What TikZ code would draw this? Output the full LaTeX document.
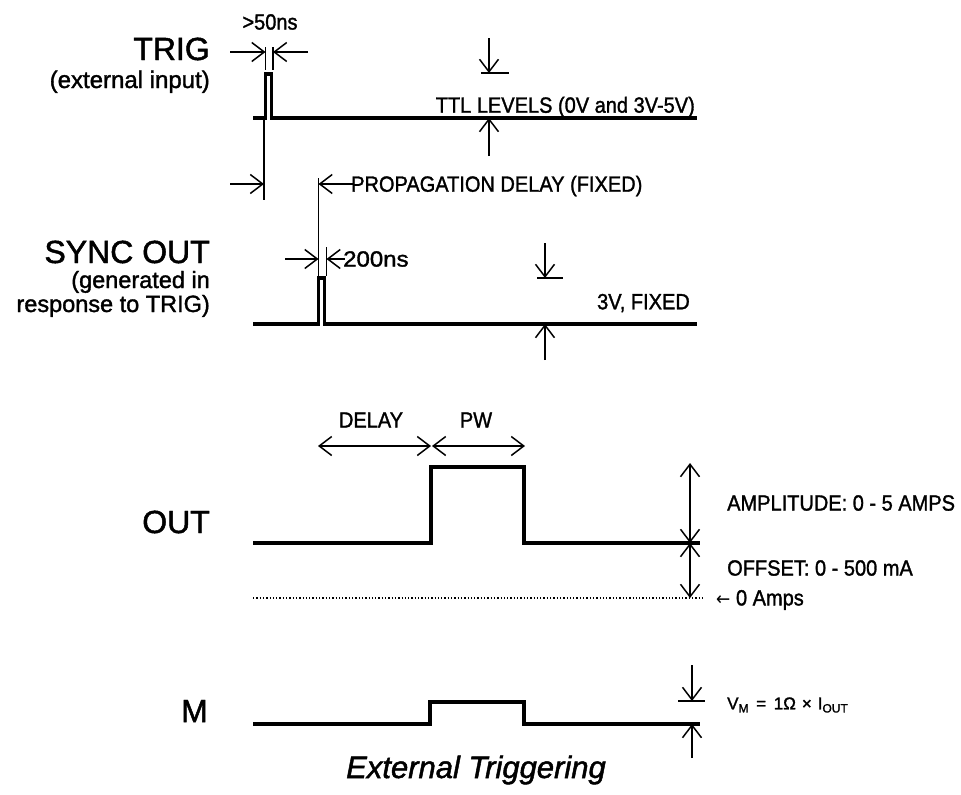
\documentclass[tikz,border=0pt]{standalone}
\usepackage{fontspec}
\setmainfont{Liberation Sans}[FakeBold=1.5]
\newfontfamily\arrowfont{DejaVu Sans}
\usetikzlibrary{arrows.meta}
\newcommand\tallt[1]{\scalebox{1}[1.1]{#1}}
\tikzset{
  wave/.style={line width=3.3pt, line join=miter},
  dim/.style={line width=1.5pt},
  dimarrow/.style={dim, -{Straight Barb[length=12.5pt,width=19pt]}},
  dimboth/.style={dim, {Straight Barb[length=12.5pt,width=19pt]}-{Straight Barb[length=12.5pt,width=19pt]}},
  biglabel/.style={inner sep=0pt, anchor=base east, font=\fontsize{32}{36}\selectfont},
  sublabel/.style={inner sep=0pt, anchor=base east, font=\fontsize{24}{26}\selectfont},
  smalltext/.style={inner sep=0pt, font=\fontsize{20}{22}\selectfont},
}
\begin{document}
\begin{tikzpicture}[x=1pt,y=-1pt]
\useasboundingbox[fill=white] (0,0) rectangle (961,795);

% ---------- labels on the left ----------
\node[biglabel] (trig) at (210,60) {TRIG};
\node[sublabel] (trigsub) at (210,88) {(external input)};
\node[biglabel] (sync) at (210,263) {SYNC OUT};
\node[sublabel, font=\fontsize{23.5}{26}\selectfont] (syncsub1) at (210,288) {(generated in};
\node[sublabel, font=\fontsize{23.5}{26}\selectfont] (syncsub2) at (210,312) {response to TRIG)};
\node[biglabel] (out) at (210,533) {OUT};
\node[biglabel] (m) at (208,722) {M};

% ---------- waveforms ----------
\draw[wave] (253,118) -- (265.5,118) -- (265.5,74) -- (271.5,74) -- (271.5,118) -- (697,118);
\draw[wave] (253,324) -- (318.5,324) -- (318.5,278) -- (324.5,278) -- (324.5,324) -- (697,324);
\draw[wave] (253,543) -- (431,543) -- (431,467) -- (524,467) -- (524,543) -- (700,543);
\draw[wave] (253,724) -- (430,724) -- (430,702) -- (524,702) -- (524,724) -- (700,724);
\draw[dotted, line width=1.3pt] (253,598) -- (705,598);

% ---------- >50ns ----------
\draw[dim] (265.5,47) -- (265.5,70);
\draw[dim] (273,47) -- (273,70);
\draw[dimarrow] (230,52) -- (265.5,52);
\draw[dimarrow] (308,52) -- (273,52);
\node[smalltext] (w50) at (270,22) {\tallt{>50ns}};

% ---------- TTL levels ----------
\draw[dimarrow] (489,38) -- (489,73);
\draw[dim] (481,73) -- (509,73);
\draw[dimarrow] (489,156) -- (489,118);
\node[smalltext, anchor=east] (ttl) at (695,107) {\tallt{TTL LEVELS (0V and 3V-5V)}};

% ---------- propagation delay ----------
\draw[dim] (264,120) -- (264,200);
\draw[dimarrow] (230,184) -- (264,184);
\draw[dim] (318.5,178) -- (318.5,278);
\draw[dimarrow] (353,184) -- (318.5,184);
\node[smalltext, anchor=west] (prop) at (351,186) {\tallt{PROPAGATION DELAY (FIXED)}};

% ---------- 200ns ----------
\draw[dimarrow] (285,259) -- (318.5,259);
\draw[dim] (326.5,247) -- (326.5,276);
\draw[dimarrow] (345,259) -- (326.5,259);
\node[smalltext, anchor=west] (w200) at (343,259) {\scalebox{1.2}[1.1]{200ns}};

% ---------- sync level ----------
\draw[dimarrow] (545,243) -- (545,278);
\draw[dim] (537,278) -- (563,278);
\draw[dimarrow] (545,360) -- (545,324);
\node[smalltext, anchor=east] (fixed) at (690,303) {\tallt{3V, FIXED}};

% ---------- delay / pw ----------
\draw[dimboth] (318,446) -- (431,446);
\draw[dimboth] (432,446) -- (525,446);
\node[smalltext] (delay) at (371,420) {\tallt{DELAY}};
\node[smalltext] (pw) at (476,420) {\tallt{PW}};

% ---------- amplitude / offset ----------
\draw[dimboth] (690,463) -- (690,543);
\draw[dimboth] (690,543) -- (690,598);
\node[smalltext, anchor=west] (amp) at (727,503) {\tallt{AMPLITUDE: 0 - 5 AMPS}};
\node[smalltext, anchor=west] (off) at (727,568) {\tallt{OFFSET: 0 - 500 mA}};
\node[smalltext, anchor=west] (zero) at (716,600) {\tallt{{\arrowfont\fontsize{17}{18}\selectfont ←} 0 Amps}};

% ---------- M level ----------
\draw[dimarrow] (692,665) -- (692,701);
\draw[dim] (678,701) -- (705,701);
\draw[dimarrow] (692,758) -- (692,724);
\node[inner sep=0pt, anchor=west, font=\fontsize{17}{19}\selectfont] (vm) at (727,705)
  {V\raisebox{-0.35ex}{\fontsize{12}{12}\selectfont M}\hspace{0.45em}=\hspace{0.45em}1Ω\hspace{0.35em}×\hspace{0.35em}I\raisebox{-0.35ex}{\fontsize{12}{12}\selectfont OUT}};

% ---------- title ----------
\node[inner sep=0pt, font=\fontsize{31}{33}\selectfont\itshape] (title) at (476,770) {External Triggering};
\end{tikzpicture}
\end{document}
